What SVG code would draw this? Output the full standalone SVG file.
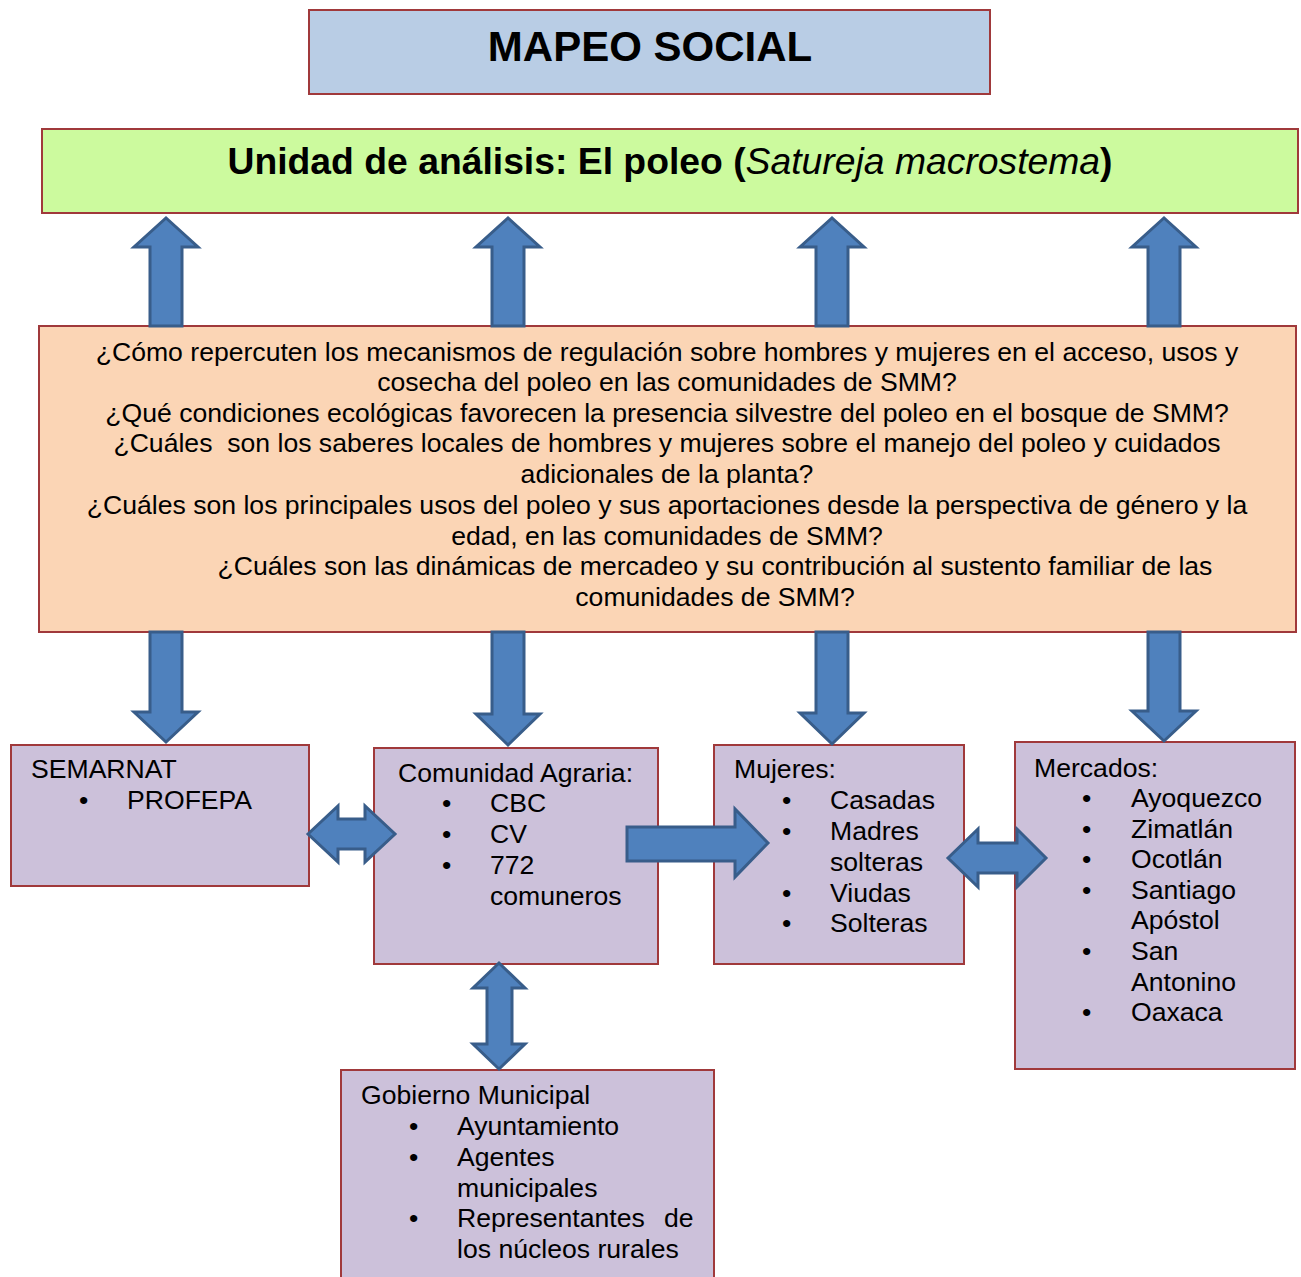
<svg xmlns="http://www.w3.org/2000/svg" width="1301" height="1277" viewBox="0 0 1301 1277">
<style>
  .box { stroke: #A0393B; stroke-width: 2; }
  .arrow { fill: #4F81BD; stroke: #385D8A; stroke-width: 3; stroke-linejoin: miter; }
  text { font-family: "Liberation Sans", Arial, sans-serif; fill: #000; }
  .t { font-size: 26.6px; }
  .q { font-size: 26.6px; text-anchor: middle; }
</style>
<rect width="1301" height="1277" fill="#FFFFFF"/>

<g id="title">
  <rect class="box" x="309" y="10" width="681" height="84" fill="#B9CDE5"/>
  <text x="650" y="61" font-size="42" font-weight="bold" text-anchor="middle">MAPEO SOCIAL</text>
</g>

<g id="unidad">
  <rect class="box" x="42" y="129" width="1256" height="84" fill="#CCFA9E"/>
  <text x="670" y="174" font-size="37.3" font-weight="bold" text-anchor="middle">Unidad de análisis: El poleo (<tspan font-style="italic" font-weight="normal">Satureja macrostema</tspan>)</text>
</g>

<g id="preguntas">
  <rect class="box" x="39" y="326" width="1257" height="306" fill="#FBD5B5"/>
  <text class="q" x="667" y="361">¿Cómo repercuten los mecanismos de regulación sobre hombres y mujeres en el acceso, usos y</text>
  <text class="q" x="667" y="391">cosecha del poleo en las comunidades de SMM?</text>
  <text class="q" x="667" y="422">¿Qué condiciones ecológicas favorecen la presencia silvestre del poleo en el bosque de SMM?</text>
  <text class="q" x="667" y="452" xml:space="preserve">¿Cuáles  son los saberes locales de hombres y mujeres sobre el manejo del poleo y cuidados</text>
  <text class="q" x="667" y="483">adicionales de la planta?</text>
  <text class="q" x="667" y="514">¿Cuáles son los principales usos del poleo y sus aportaciones desde la perspectiva de género y la</text>
  <text class="q" x="667" y="545">edad, en las comunidades de SMM?</text>
  <text class="q" x="715" y="575">¿Cuáles son las dinámicas de mercadeo y su contribución al sustento familiar de las</text>
  <text class="q" x="715" y="606">comunidades de SMM?</text>
</g>

<g id="semarnat">
  <rect class="box" x="11" y="745" width="298" height="141" fill="#CCC1DA"/>
  <text class="t" x="31" y="778">SEMARNAT</text>
  <text class="t" x="79" y="809">•</text>
  <text class="t" x="127" y="809">PROFEPA</text>
</g>

<g id="comunidad">
  <rect class="box" x="374" y="748" width="284" height="216" fill="#CCC1DA"/>
  <text class="t" x="398" y="782">Comunidad Agraria:</text>
  <text class="t" x="442" y="812">•</text><text class="t" x="490" y="812">CBC</text>
  <text class="t" x="442" y="843">•</text><text class="t" x="490" y="843">CV</text>
  <text class="t" x="442" y="874">•</text><text class="t" x="490" y="874">772</text>
  <text class="t" x="490" y="905">comuneros</text>
</g>

<g id="mujeres">
  <rect class="box" x="714" y="745" width="250" height="219" fill="#CCC1DA"/>
  <text class="t" x="734" y="778">Mujeres:</text>
  <text class="t" x="782" y="809">•</text><text class="t" x="830" y="809">Casadas</text>
  <text class="t" x="782" y="840">•</text><text class="t" x="830" y="840">Madres</text>
  <text class="t" x="830" y="871">solteras</text>
  <text class="t" x="782" y="902">•</text><text class="t" x="830" y="902">Viudas</text>
  <text class="t" x="782" y="932">•</text><text class="t" x="830" y="932">Solteras</text>
</g>

<g id="mercados">
  <rect class="box" x="1015" y="742" width="280" height="327" fill="#CCC1DA"/>
  <text class="t" x="1034" y="777">Mercados:</text>
  <text class="t" x="1082" y="807">•</text><text class="t" x="1131" y="807">Ayoquezco</text>
  <text class="t" x="1082" y="838">•</text><text class="t" x="1131" y="838">Zimatlán</text>
  <text class="t" x="1082" y="868">•</text><text class="t" x="1131" y="868">Ocotlán</text>
  <text class="t" x="1082" y="899">•</text><text class="t" x="1131" y="899">Santiago</text>
  <text class="t" x="1131" y="929">Apóstol</text>
  <text class="t" x="1082" y="960">•</text><text class="t" x="1131" y="960">San</text>
  <text class="t" x="1131" y="991">Antonino</text>
  <text class="t" x="1082" y="1021">•</text><text class="t" x="1131" y="1021">Oaxaca</text>
</g>

<g id="gobierno">
  <rect class="box" x="341" y="1070" width="373" height="215" fill="#CCC1DA"/>
  <text class="t" x="361" y="1104">Gobierno Municipal</text>
  <text class="t" x="409" y="1135">•</text><text class="t" x="457" y="1135">Ayuntamiento</text>
  <text class="t" x="409" y="1166">•</text><text class="t" x="457" y="1166">Agentes</text>
  <text class="t" x="457" y="1197">municipales</text>
  <text class="t" x="409" y="1227">•</text><text class="t" x="457" y="1227">Representantes</text><text class="t" x="664" y="1227">de</text>
  <text class="t" x="457" y="1258">los núcleos rurales</text>
</g>

<g id="connectors">
  <!-- up arrows -->
  <path class="arrow" d="M150,326 V247 H134 L166,218 L198,247 H182 V326 Z"/>
  <path class="arrow" d="M492,326 V247 H476 L508,218 L540,247 H524 V326 Z"/>
  <path class="arrow" d="M816,326 V247 H800 L832,218 L864,247 H848 V326 Z"/>
  <path class="arrow" d="M1148,326 V247 H1132 L1164,218 L1196,247 H1180 V326 Z"/>
  <!-- down arrows -->
  <path class="arrow" d="M150,632 V712 H134 L166,742 L198,712 H182 V632 Z"/>
  <path class="arrow" d="M492,632 V714 H476 L508,745 L540,714 H524 V632 Z"/>
  <path class="arrow" d="M816,632 V713 H800 L832,744 L864,713 H848 V632 Z"/>
  <path class="arrow" d="M1148,632 V711 H1132 L1164,741 L1196,711 H1180 V632 Z"/>
  <!-- SEMARNAT <-> Comunidad -->
  <path class="arrow" d="M308,834 L338,806 V819 H365 V806 L395,834 L365,862 V849 H338 V862 Z"/>
  <!-- Comunidad -> Mujeres -->
  <path class="arrow" d="M627,827 H735 V809 L768,843 L735,877 V861 H627 Z"/>
  <!-- Mujeres <-> Mercados -->
  <path class="arrow" d="M948,858 L978,829 V843 H1017 V829 L1046,858 L1017,887 V873 H978 V887 Z"/>
  <!-- Comunidad <-> Gobierno -->
  <path class="arrow" d="M499,963 L525,988 H512 V1044 H525 L499,1069 L473,1044 H487 V988 H473 Z"/>
</g>
</svg>
